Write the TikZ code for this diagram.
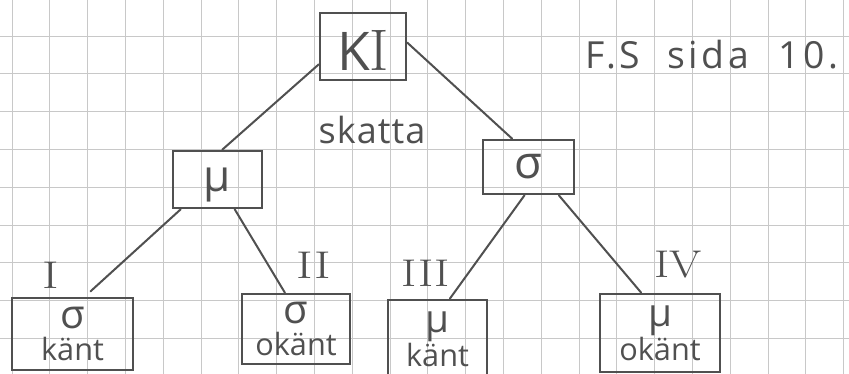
\documentclass[tikz,border=0pt]{standalone}
\usepackage{fontspec}
\setsansfont{Open Sans}
\definecolor{ink}{HTML}{505050}
\definecolor{gridc}{HTML}{C8C8C8}
\begin{document}
\begin{tikzpicture}[x=0.75pt,y=-0.75pt,
  gridline/.style={draw=gridc, line width=0.7pt},
  box/.style={draw=ink, line width=1.9pt, inner sep=0pt, align=center, text=ink,
    font=\sffamily\fontsize{23}{24}\selectfont},
  link/.style={draw=ink, line width=1.5pt, line cap=round},
  numeral/.style={text=ink, inner sep=0pt, font=\rmfamily\fontsize{29}{29}\selectfont},
  hand/.style={text=ink, inner sep=0pt, font=\sffamily\fontsize{#1}{#1}\selectfont},
]
\useasboundingbox (0,0) rectangle (849,374);
\fill[white] (0,0) rectangle (849,374);
% grid paper
\foreach \i in {0,...,22} \draw[gridline] ({12+37.8*\i},0) -- ({12+37.8*\i},374);
\foreach \j in {0,...,8} \draw[gridline] (0,{36+37.8*\j}) -- (849,{36+37.8*\j});

% boxes
\node[box, minimum width=86*0.75pt, minimum height=67*0.75pt, text height=36pt, text depth=0pt,
      font=\sffamily\fontsize{40}{40}\selectfont] (KI) at (363,46.5) {K{\rmfamily\fontsize{44}{44}\selectfont I}};
\node[box, minimum width=89*0.75pt, minimum height=57*0.75pt, text height=26pt, text depth=8pt,
      font=\sffamily\fontsize{33}{33}\selectfont] (mu) at (217.5,179.5) {μ};
\node[box, minimum width=91*0.75pt, minimum height=54*0.75pt,
      font=\sffamily\fontsize{34}{34}\selectfont] (sig) at (528.5,167) {σ};

\node[box, minimum width=121*0.75pt, minimum height=72*0.75pt] (b1) at (72.5,334)
  {{\fontsize{30}{24}\selectfont σ}\\känt};
\node[box, minimum width=108*0.75pt, minimum height=70*0.75pt] (b2) at (296,329)
  {{\fontsize{30}{24}\selectfont σ}\\okänt};
\node[box, minimum width=99*0.75pt, minimum height=78*0.75pt] (b3) at (437.5,339)
  {{\fontsize{29}{24}\selectfont μ}\\känt};
\node[box, minimum width=120*0.75pt, minimum height=78*0.75pt] (b4) at (660,333)
  {{\fontsize{29}{24}\selectfont μ}\\okänt};

% numerals
\node[numeral] (n1) at (51,275) {\scalebox{1.3}[1]{I}};
\node[numeral] (n2) at (314,265) {\scalebox{1.3}[1]{II}};
\node[numeral] (n3) at (426,273) {\scalebox{1.2}[1]{III}};
\node[numeral] (n4) at (678,265) {\scalebox{1.2}[1]{IV}};

% texts
\node[hand=27] (skatta) at (372,130) {\addfontfeature{LetterSpace=3}skatta};
\node[hand=28] (ref) at (712,55) {\addfontfeature{LetterSpace=10}F.S\hspace{20pt}sida\hspace{22pt}10.};

% connectors
\draw[link] (KI.202) -- (mu.81);
\draw[link] (KI.5) -- (sig.120);
\draw[link, shorten >=6pt] (mu.219) -- (b1.72);
\draw[link] (mu.300) -- (b2.107);
\draw[link] (sig.262) -- (b3.73);
\draw[link] (sig.317) -- (b4.115);
\end{tikzpicture}
\end{document}
